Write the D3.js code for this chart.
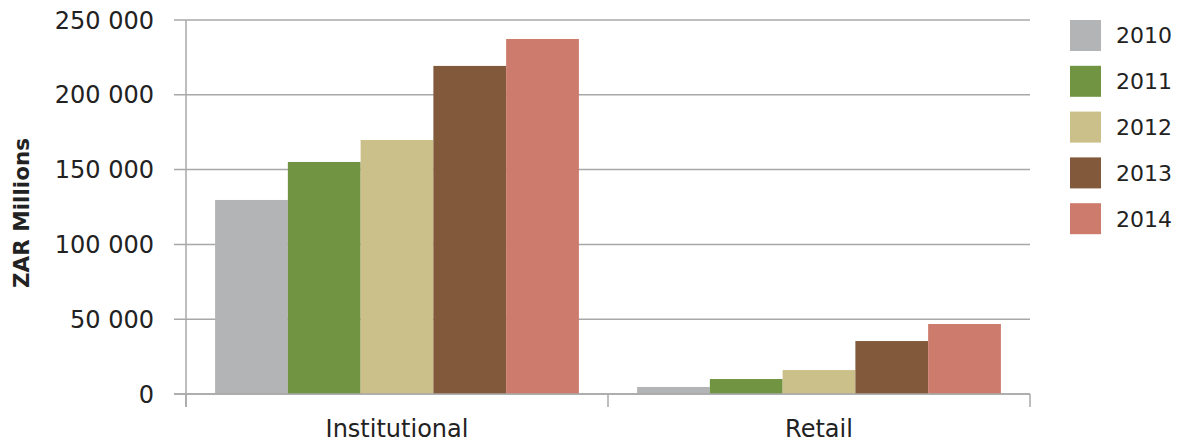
<!DOCTYPE html>
<html>
<head>
<meta charset="utf-8">
<script src="https://cdn.jsdelivr.net/npm/d3@7"></script>
<style>
  html, body { margin: 0; padding: 0; background: #fff; }
  svg text { font-family: "DejaVu Sans", Verdana, sans-serif; fill: #222; }
</style>
</head>
<body>
<svg id="chart" width="1179" height="443"></svg>
<script>
// Assets by client type, ZAR millions
const categories = ["Institutional", "Retail"];
const years = ["2010", "2011", "2012", "2013", "2014"];
const values2010 = [129700, 4700];
const values2011 = [155100, 10000];
const values2012 = [169800, 16000];
const values2013 = [219300, 35400];
const values2014 = [237300, 46800];
const yTicks = [0, 50000, 100000, 150000, 200000, 250000];
const colors = ["#b3b4b6", "#709442", "#cbc089", "#83593b", "#cc7b6d"];

const seriesValues = [values2010, values2011, values2012, values2013, values2014];
const rows = categories.map((c, i) => ({
  category: c,
  values: years.map((y, j) => ({ year: y, value: seriesValues[j][i] }))
}));

const svg = d3.select("#chart");
const margin = { left: 186, right: 149, top: 20, bottom: 49 };
const W = 1179, H = 443;
const innerW = W - margin.left - margin.right;
const innerH = H - margin.top - margin.bottom;

const x0 = d3.scaleBand().domain(categories).range([0, innerW]).paddingInner(0).paddingOuter(0);
const x1 = d3.scaleBand().domain(years).range([0, x0.bandwidth()]).paddingOuter(0.4).paddingInner(0);
const y = d3.scaleLinear().domain([0, 250000]).range([innerH, 0]);
const color = d3.scaleOrdinal().domain(years).range(colors);

const g = svg.append("g").attr("transform", `translate(${margin.left},${margin.top})`);
const fmt = v => d3.format(",")(v).replace(/,/g, " ");

// gridlines + left ticks
const gridColor = "#a8a8a8";
g.append("g").selectAll("line").data(yTicks).join("line")
  .attr("x1", -12).attr("x2", innerW)
  .attr("y1", d => y(d)).attr("y2", d => y(d))
  .attr("stroke", gridColor).attr("stroke-width", 1.5);

// bars
const groups = g.append("g").selectAll("g").data(rows).join("g")
  .attr("transform", d => `translate(${x0(d.category)},0)`);
groups.selectAll("rect").data(d => d.values).join("rect")
  .attr("x", d => x1(d.year))
  .attr("width", x1.bandwidth())
  .attr("y", d => y(d.value))
  .attr("height", d => y(0) - y(d.value))
  .attr("fill", d => color(d.year));

// baseline redraw over bars
g.append("line").attr("x1", -12).attr("x2", innerW)
  .attr("y1", y(0)).attr("y2", y(0))
  .attr("stroke", gridColor).attr("stroke-width", 1.5);

// y axis line
g.append("line").attr("x1", 0).attr("x2", 0)
  .attr("y1", 0).attr("y2", innerH + 13)
  .attr("stroke", gridColor).attr("stroke-width", 1.5);

// category separator ticks
const catTicks = [0, x0.bandwidth(), innerW];
g.append("g").selectAll("line").data(catTicks).join("line")
  .attr("x1", d => d).attr("x2", d => d)
  .attr("y1", innerH).attr("y2", innerH + 13)
  .attr("stroke", gridColor).attr("stroke-width", 1.5);

// y tick labels
g.append("g").selectAll("text").data(yTicks).join("text")
  .attr("x", -32).attr("y", d => y(d))
  .attr("dy", "0.36em")
  .attr("text-anchor", "end")
  .style("font-size", "24px")
  .text(fmt);

// category labels
g.append("g").selectAll("text").data(categories).join("text")
  .attr("x", d => x0(d) + x0.bandwidth() / 2)
  .attr("y", innerH + 43)
  .attr("text-anchor", "middle")
  .style("font-size", "24px")
  .text(d => d);

// y axis title
svg.append("text")
  .attr("transform", `translate(29,213) rotate(-90)`)
  .attr("text-anchor", "middle")
  .style("font-size", "21.5px")
  .style("font-weight", "bold")
  .text("ZAR Millions");

// legend
const legend = svg.append("g").attr("transform", "translate(1070,20)");
const items = legend.selectAll("g").data(years).join("g")
  .attr("transform", (d, i) => `translate(0,${i * 45.8})`);
items.append("rect").attr("width", 31).attr("height", 31).attr("fill", d => color(d));
items.append("text").attr("x", 46).attr("y", 15.5).attr("dy", "0.36em")
  .style("font-size", "22px").text(d => d);
</script>
</body>
</html>
